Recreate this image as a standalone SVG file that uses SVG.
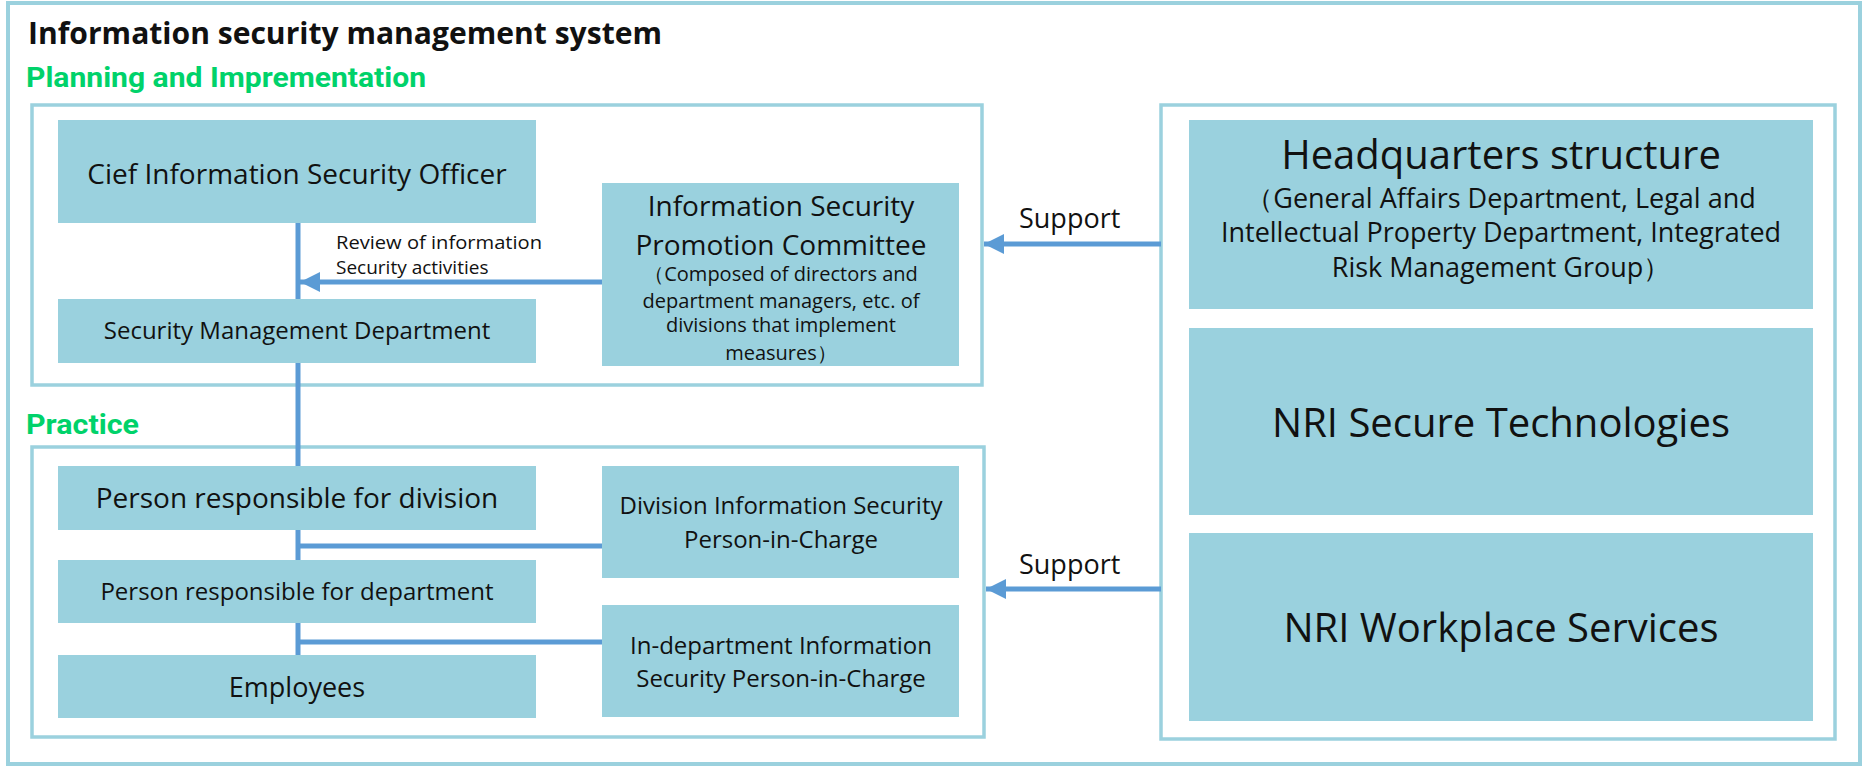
<svg xmlns="http://www.w3.org/2000/svg" width="1868" height="768" viewBox="0 0 1868 768">
<defs>
<style>
.frame{fill:#fff;stroke:#9BD1DE;stroke-width:4}
.panel{fill:#fff;stroke:#9BD1DE;stroke-width:3.5}
.box{fill:#9AD1DE;stroke:none}
.t{font-family:"Open Sans","Noto Sans",sans-serif;fill:#111;text-anchor:middle}
.lbl{font-family:"Open Sans","Noto Sans",sans-serif;fill:#111}
.green{font-family:Roboto,"Liberation Sans",sans-serif;font-weight:bold;fill:#00D26A}
.conn{stroke:#5B9BD5;stroke-width:5;fill:none}
</style>
<marker id="ah" markerUnits="userSpaceOnUse" markerWidth="22" markerHeight="20" refX="20" refY="10" orient="auto">
<path d="M0,0 L20,10 L0,20 Z" fill="#5B9BD5"/>
</marker>
</defs>
<rect x="0" y="0" width="1868" height="768" fill="#fff"/>
<rect class="frame" x="8" y="3" width="1852" height="761"/>
<text class="lbl" x="28" y="44" font-size="30" font-weight="bold" textLength="634" lengthAdjust="spacingAndGlyphs">Information security management system</text>
<text class="green" x="26" y="87" font-size="28" textLength="400" lengthAdjust="spacingAndGlyphs">Planning and Imprementation</text>
<text class="green" x="26" y="434" font-size="28" textLength="113" lengthAdjust="spacingAndGlyphs">Practice</text>

<g id="panel-planning"><rect class="panel" x="32" y="105" width="950" height="280"/></g>
<g id="panel-practice"><rect class="panel" x="32" y="447" width="952" height="290"/></g>
<g id="panel-support"><rect class="panel" x="1161" y="105" width="674" height="634"/></g>

<g id="connectors">
<line class="conn" x1="298" y1="223" x2="298" y2="299"/>
<line class="conn" x1="298" y1="363" x2="298" y2="466"/>
<line class="conn" x1="298" y1="530" x2="298" y2="560"/>
<line class="conn" x1="298" y1="623" x2="298" y2="655"/>
<line class="conn" x1="602" y1="282" x2="300" y2="282" marker-end="url(#ah)"/>
<line class="conn" x1="298" y1="546" x2="602" y2="546"/>
<line class="conn" x1="298" y1="642" x2="602" y2="642"/>
<line class="conn" x1="1161" y1="244" x2="984" y2="244" marker-end="url(#ah)"/>
<line class="conn" x1="1161" y1="589" x2="986" y2="589" marker-end="url(#ah)"/>
<text class="lbl" x="336" y="249" font-size="19" textLength="206" lengthAdjust="spacingAndGlyphs">Review of information</text>
<text class="lbl" x="336" y="274" font-size="19">Security activities</text>
<text class="lbl" x="1019" y="228" font-size="27">Support</text>
<text class="lbl" x="1019" y="574" font-size="27">Support</text>
</g>

<g id="ciso"><rect class="box" x="58" y="120" width="478" height="103"/>
<text class="t" x="297" y="184" font-size="28">Cief Information Security Officer</text></g>
<g id="smd"><rect class="box" x="58" y="299" width="478" height="64"/>
<text class="t" x="297" y="339" font-size="24">Security Management Department</text></g>
<g id="committee"><rect class="box" x="602" y="183" width="357" height="183"/>
<text class="t" x="781" y="216" font-size="28">Information Security</text>
<text class="t" x="781" y="255" font-size="28">Promotion Committee</text>
<text class="t" x="781" y="281" font-size="20">（Composed of directors and</text>
<text class="t" x="781" y="308" font-size="20">department managers, etc. of</text>
<text class="t" x="781" y="332" font-size="20">divisions that implement</text>
<text class="t" x="781" y="360" font-size="20">measures）</text></g>

<g id="hq"><rect class="box" x="1189" y="120" width="624" height="189"/>
<text class="t" x="1501" y="169" font-size="40">Headquarters structure</text>
<text class="t" x="1501" y="208" font-size="27">（General Affairs Department, Legal and</text>
<text class="t" x="1501" y="242" font-size="27">Intellectual Property Department, Integrated</text>
<text class="t" x="1501" y="277" font-size="27">Risk Management Group）</text></g>
<g id="nrisecure"><rect class="box" x="1189" y="328" width="624" height="187"/>
<text class="t" x="1501" y="437" font-size="40">NRI Secure Technologies</text></g>
<g id="nriworkplace"><rect class="box" x="1189" y="533" width="624" height="188"/>
<text class="t" x="1501" y="642" font-size="40">NRI Workplace Services</text></g>

<g id="div"><rect class="box" x="58" y="466" width="478" height="64"/>
<text class="t" x="297" y="508" font-size="28">Person responsible for division</text></g>
<g id="dept"><rect class="box" x="58" y="560" width="478" height="63"/>
<text class="t" x="297" y="600" font-size="24">Person responsible for department</text></g>
<g id="emp"><rect class="box" x="58" y="655" width="478" height="63"/>
<text class="t" x="297" y="697" font-size="27">Employees</text></g>
<g id="divisp"><rect class="box" x="602" y="466" width="357" height="112"/>
<text class="t" x="781" y="514" font-size="24">Division Information Security</text>
<text class="t" x="781" y="548" font-size="24">Person-in-Charge</text></g>
<g id="deptisp"><rect class="box" x="602" y="605" width="357" height="112"/>
<text class="t" x="781" y="654" font-size="24">In-department Information</text>
<text class="t" x="781" y="687" font-size="24">Security Person-in-Charge</text></g>
</svg>
